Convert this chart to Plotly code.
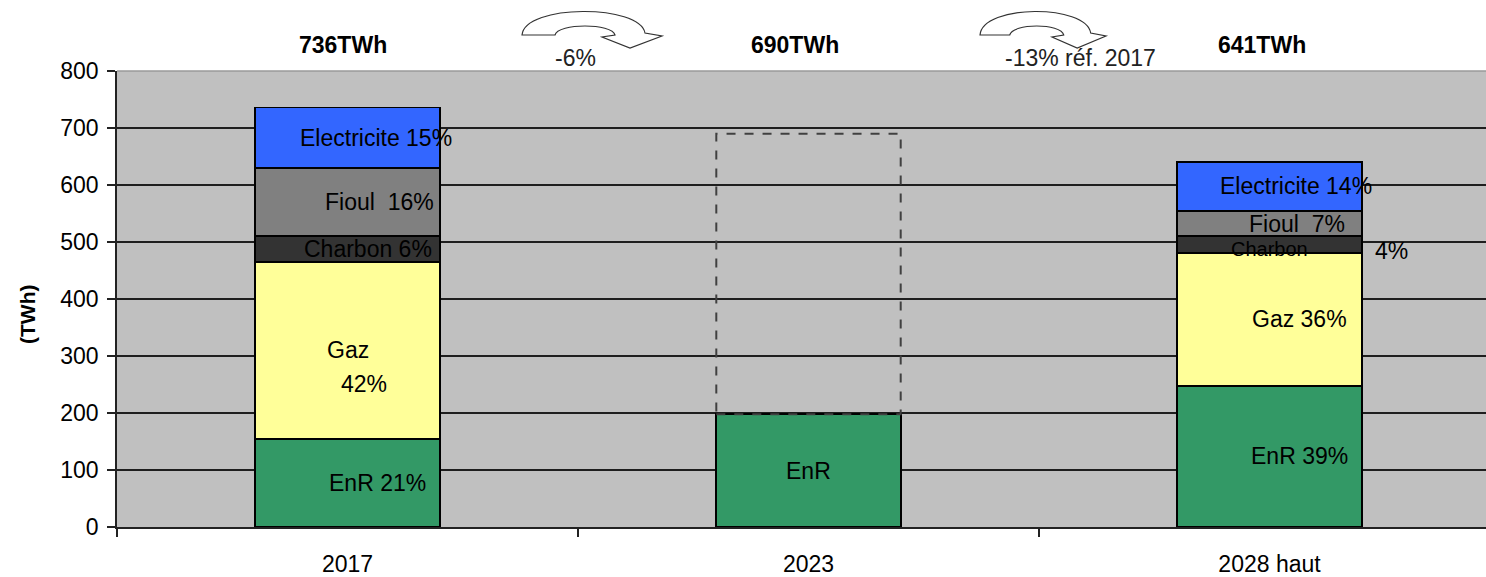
import plotly.graph_objects as go

# ---------------- data ----------------
categories = ["2017", "2023", "2028 haut"]
series_names = ["EnR", "Gaz", "Charbon", "Fioul", "Electricite"]
enr = [155, 198, 248]
gaz = [310, None, 233]
charbon = [45, None, 29]
fioul = [120, None, 44]
electricite = [106, None, 87]
total_2023_target = 690

enr_labels = ["EnR 21%", "EnR", "EnR 39%"]
gaz_labels = ["Gaz", None, "Gaz 36%"]
charbon_labels = ["Charbon 6%", None, "Charbon"]
fioul_labels = ["Fioul\u00a0\u00a016%", None, "Fioul\u00a0\u00a07%"]
elec_labels = ["Electricite 15%", None, "Electricite 14%"]
change_labels = ["-6%", "-13% réf. 2017"]
y_title = "(TWh)"

# ---------------- style ----------------
W, H = 1486, 577
ML, MT, MB = 117, 71, 50
PW = W - ML
PH = H - MT - MB
FONT = "Liberation Sans, Arial, sans-serif"
FS = 23
colors = {"EnR": "#339966", "Gaz": "#FFFF99", "Charbon": "#333333",
          "Fioul": "#808080", "Electricite": "#3366FF"}
series_values = {"EnR": enr, "Gaz": gaz, "Charbon": charbon,
                 "Fioul": fioul, "Electricite": electricite}
series_labels = {"EnR": enr_labels, "Gaz": gaz_labels, "Charbon": charbon_labels,
                 "Fioul": fioul_labels, "Electricite": elec_labels}
# horizontal offsets of the labels from bar centre (category units)
label_dx = {"EnR": [0.066, 0.0, 0.066], "Gaz": [0.0, 0.0, 0.064],
            "Charbon": [0.044, 0.0, 0.0], "Fioul": [0.069, 0.0, 0.059],
            "Electricite": [0.061, 0.0, 0.057]}
label_dy = {("Charbon", 2): -4}
label_fs = {("Charbon", 2): 20}
BAR_W = 0.4
cat_px = 461.0
x_range = [-0.5, -0.5 + PW / cat_px]

fig = go.Figure()
for name in series_names:
    fig.add_trace(go.Bar(
        x=categories, y=series_values[name], name=name, width=BAR_W,
        marker=dict(color=colors[name], line=dict(color="black", width=1.8)),
        hoverinfo="skip"))

annotations = []
# segment labels
for i in range(len(categories)):
    cum = 0
    for name in series_names:
        v = series_values[name][i]
        if v is None:
            continue
        mid = cum + v / 2
        txt = series_labels[name][i]
        if txt:
            annotations.append(dict(
                x=i + label_dx[name][i], y=mid, xref="x", yref="y", text=txt,
                yshift=label_dy.get((name, i), 0),
                showarrow=False,
                font=dict(family=FONT, size=label_fs.get((name, i), FS), color="black"),
                xanchor="center", yanchor="middle"))
        cum += v

# extra labels
gaz_mid0 = enr[0] + gaz[0] / 2
annotations.append(dict(x=0.035, y=gaz_mid0, xref="x", yref="y", text="42%",
                        yshift=-34, showarrow=False, xanchor="center", yanchor="middle",
                        font=dict(family=FONT, size=FS, color="black")))
ch_mid2 = enr[2] + gaz[2] + charbon[2] / 2
annotations.append(dict(x=2 + 0.265, y=ch_mid2, xref="x", yref="y", text="4%",
                        yshift=-6, showarrow=False, xanchor="center", yanchor="middle",
                        font=dict(family=FONT, size=FS, color="black")))

# totals on top
def tot(i):
    return sum(series_values[n][i] for n in series_names if series_values[n][i] is not None)

totals = [tot(0), total_2023_target, tot(2)]
tot_dx = [-0.01, -0.03, -0.016]
for i, t in enumerate(totals):
    annotations.append(dict(x=i + tot_dx[i], y=1 + 26 / PH, xref="x", yref="paper",
                            text=f"<b>{t}TWh</b>", showarrow=False,
                            xanchor="center", yanchor="middle",
                            font=dict(family=FONT, size=FS, color="black")))

# change labels
change_x = [0.495, 1.589]
for cx, t in zip(change_x, change_labels):
    annotations.append(dict(x=cx, y=1 + 13 / PH, xref="x", yref="paper", text=t,
                            showarrow=False, xanchor="center", yanchor="middle",
                            font=dict(family=FONT, size=FS, color="#222")))

# y title
annotations.append(dict(x=(27 - ML) / PW, y=(H - MB - 315) / PH, xref="paper",
                        yref="paper", text=f"<b>{y_title}</b>", textangle=-90,
                        xanchor="center", yanchor="middle",
                        showarrow=False, font=dict(family=FONT, size=21, color="black")))

shapes = []
# dashed outline for 2023 target
shapes.append(dict(type="rect", xref="x", yref="y", x0=1 - BAR_W / 2, x1=1 + BAR_W / 2,
                   y0=enr[1], y1=total_2023_target,
                   line=dict(color="#404040", width=2, dash="dash"),
                   fillcolor="rgba(0,0,0,0)", layer="above"))
# top border of plot area
shapes.append(dict(type="line", xref="paper", yref="paper", x0=0, x1=1, y0=1, y1=1,
                   line=dict(color="#9a9a9a", width=1.5)))

# curved arrows (decoration) in pixel space converted to paper
def P(px, py):
    return f"{(px - ML) / PW:.5f},{(H - MB - py) / PH:.5f}"

def arrow(x0, sx):
    f = lambda x: x0 + (x - 522) * sx
    return ("M " + P(f(522), 35) +
            " C " + P(f(525), 4) + " " + P(f(640), 4) + " " + P(f(645), 33) +
            " L " + P(f(662), 36) +
            " L " + P(f(630), 48) +
            " L " + P(f(602), 37) +
            " L " + P(f(615), 35) +
            " C " + P(f(612), 23) + " " + P(f(558), 23) + " " + P(f(555), 35) +
            " Z")

for x0, sx in [(522, 1.0), (980, 0.9)]:
    shapes.append(dict(type="path", xref="paper", yref="paper", path=arrow(x0, sx),
                       fillcolor="white", line=dict(color="#333333", width=1.2)))

fig.update_layout(
    width=W, height=H, barmode="stack", showlegend=False,
    margin=dict(l=ML, r=0, t=MT, b=MB, pad=0),
    paper_bgcolor="white", plot_bgcolor="#C0C0C0",
    font=dict(family=FONT, size=FS, color="black"),
    annotations=annotations, shapes=shapes, hovermode=False,
    xaxis=dict(type="category", range=x_range, tickson="boundaries",
               ticks="outside", ticklen=8, tickcolor="#222", tickwidth=1.5,
               showline=True, linecolor="#222", linewidth=1.5, showgrid=False,
               ticklabelstandoff=16, tickfont=dict(family=FONT, size=FS, color="black")),
    yaxis=dict(range=[0, 800], dtick=100, ticks="outside", ticklen=8,
               tickcolor="#222", tickwidth=1.5, showline=True, linecolor="#222",
               linewidth=1.5, showgrid=True, gridcolor="#1e1e1e", gridwidth=1.5,
               zeroline=False, tickfont=dict(family=FONT, size=FS, color="black"),
               ticklabelstandoff=4),
)

fig.write_html("out.html")
